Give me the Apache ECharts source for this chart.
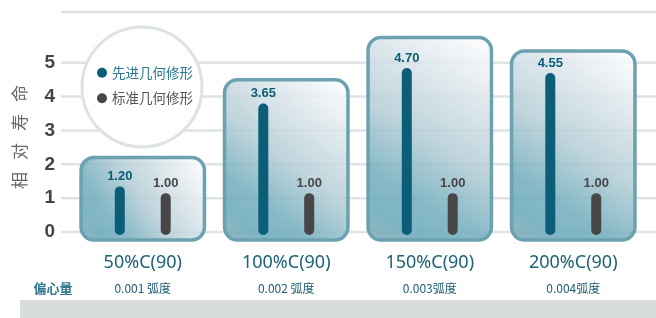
<!DOCTYPE html>
<html>
<head>
<meta charset="utf-8">
<script src="https://cdn.jsdelivr.net/npm/echarts@6/dist/echarts.min.js"></script>
<style>
  html, body { margin: 0; padding: 0; background: #fff; }
  #chart { width: 656px; height: 318px; }
</style>
</head>
<body>
<div id="chart"></div>
<script>
// data
const categories = ['50%C(90)', '100%C(90)', '150%C(90)', '200%C(90)']
const eccentricity = ['0.001 弧度', '0.002 弧度', '0.003弧度', '0.004弧度']
const advanced = [1.20, 3.65, 4.70, 4.55]
const standard = [1.00, 1.00, 1.00, 1.00]
const boxTop = [2.2, 4.5, 5.75, 5.35]
const gridLevels = [0, 1, 2, 3, 4, 5, 6.5]

const TEAL = '#0b5d78'
const GREY = '#474747'
const CJK = '"Noto Sans CJK SC", "Noto Sans", sans-serif'

const chart = echarts.init(document.getElementById('chart'), null, { renderer: 'canvas' })

const boxFill = new echarts.graphic.LinearGradient(1, 0, 0, 1, [
  { offset: 0, color: '#ffffff' },
  { offset: 0.2, color: '#e2eaee' },
  { offset: 0.5, color: '#b3ccd5' },
  { offset: 0.75, color: '#6eabbb' },
  { offset: 0.88, color: '#66a7b7' },
  { offset: 1, color: '#80a8b4' }
])

function renderGridLine (params, api) {
  const cs = params.coordSys
  const y = api.coord([0, api.value(0)])[1]
  return {
    type: 'line',
    shape: { x1: cs.x, y1: y, x2: cs.x + cs.width, y2: y },
    style: { stroke: '#dfe3e3', lineWidth: 2.5 }
  }
}

function renderBox (params, api) {
  const i = api.value(0)
  const top = api.coord([i, api.value(1)])
  const base = api.coord([i, 0])
  const w = api.size([1, 0])[0] * 0.86
  const shape = { x: top[0] - w / 2, y: top[1], width: w, height: base[1] + 8 - top[1], r: 13 }
  return {
    type: 'group',
    children: [
      { type: 'rect', shape: shape, style: { fill: boxFill, opacity: 0.84 } },
      { type: 'rect', shape: shape, style: { fill: 'none', stroke: '#6ca1b0', lineWidth: 3.5 } }
    ]
  }
}

function barRenderer (shift, color) {
  return function (params, api) {
    const i = api.value(0)
    const v = api.value(1)
    const base = api.coord([i, 0])
    const top = api.coord([i, v])
    const x = base[0] + shift * api.size([1, 0])[0]
    return {
      type: 'group',
      children: [
        {
          type: 'line',
          shape: { x1: x, y1: base[1] - 2, x2: x, y2: top[1] },
          style: { stroke: color, lineWidth: 10, lineCap: 'round' }
        },
        {
          type: 'text',
          x: x,
          y: top[1] - 15,
          style: {
            text: v.toFixed(2),
            fill: color,
            font: 'bold 13px "Liberation Sans", Arial, sans-serif',
            align: 'center',
            verticalAlign: 'middle'
          }
        }
      ]
    }
  }
}

chart.setOption({
  backgroundColor: '#fff',
  animation: false,
  grid: [
    { left: 61, right: 0, top: 12, bottom: 86 },
    { left: 71, right: 11, top: 12, bottom: 86 }
  ],
  xAxis: [
    { gridIndex: 0, type: 'value', min: 0, max: 1, show: false },
    {
      gridIndex: 1,
      type: 'category',
      data: categories,
      axisLine: { show: false },
      axisTick: { show: false },
      axisLabel: {
        margin: 19,
        formatter: (v, i) => '{a|' + v + '}\n{b|' + eccentricity[i] + '}',
        rich: {
          a: { fontSize: 18, color: '#1c6278', fontFamily: '"Noto Sans", sans-serif', lineHeight: 24 },
          b: { fontSize: 12, color: '#1d5d73', fontFamily: CJK, lineHeight: 26 }
        }
      }
    }
  ],
  yAxis: [
    {
      gridIndex: 0,
      type: 'value',
      min: 0,
      max: 6.5,
      interval: 1,
      axisLine: { show: false },
      axisTick: { show: false },
      splitLine: { show: false },
      axisLabel: {
        margin: 6,
        color: '#444',
        fontSize: 19,
        fontWeight: 'bold',
        fontFamily: '"Liberation Sans", Arial, sans-serif',
        padding: [0, 0, 8, 0],
        formatter: v => (v <= 5 ? String(v) : '')
      }
    },
    { gridIndex: 1, type: 'value', min: 0, max: 6.5, show: false }
  ],
  legend: {
    data: [
      { name: '先进几何修形', textStyle: { color: '#2a7a94' } },
      { name: '标准几何修形', textStyle: { color: '#555' } }
    ],
    orient: 'vertical',
    left: 92,
    top: 61,
    icon: 'circle',
    itemWidth: 10,
    itemHeight: 10,
    itemGap: 12,
    z: 5,
    textStyle: { fontSize: 13.5, fontFamily: CJK }
  },
  graphic: [
    {
      type: 'circle',
      z: 3,
      shape: { cx: 142, cy: 87, r: 60 },
      style: { fill: '#fff', stroke: '#dde2e3', lineWidth: 3 }
    },
    {
      type: 'text',
      x: 20,
      y: 137,
      rotation: Math.PI / 2,
      style: {
        text: '相{s|　}对{s|　}寿{s|　}命',
        fill: '#666',
        fontSize: 17,
        fontFamily: CJK,
        align: 'center',
        verticalAlign: 'middle',
        rich: { s: { fontSize: 12, fontFamily: CJK } }
      }
    },
    {
      type: 'text',
      x: 53,
      y: 288,
      style: {
        text: '偏心量',
        fill: '#2f7690',
        fontSize: 13,
        fontWeight: 'bold',
        fontFamily: CJK,
        align: 'center',
        verticalAlign: 'middle'
      }
    },
    {
      type: 'rect',
      shape: { x: 20, y: 300, width: 636, height: 18 },
      style: { fill: '#d9dcdd' }
    }
  ],
  series: [
    {
      type: 'custom',
      xAxisIndex: 0,
      yAxisIndex: 0,
      z: 1,
      silent: true,
      renderItem: renderGridLine,
      data: gridLevels.map(v => [v])
    },
    {
      type: 'custom',
      xAxisIndex: 1,
      yAxisIndex: 1,
      z: 2,
      clip: false,
      renderItem: renderBox,
      encode: { x: 0, y: 1 },
      data: boxTop.map((v, i) => [i, v])
    },
    {
      name: '先进几何修形',
      type: 'custom',
      xAxisIndex: 1,
      yAxisIndex: 1,
      z: 3,
      clip: false,
      itemStyle: { color: TEAL },
      renderItem: barRenderer(-0.16, TEAL),
      encode: { x: 0, y: 1 },
      data: advanced.map((v, i) => [i, v])
    },
    {
      name: '标准几何修形',
      type: 'custom',
      xAxisIndex: 1,
      yAxisIndex: 1,
      z: 3,
      clip: false,
      itemStyle: { color: GREY },
      renderItem: barRenderer(0.16, GREY),
      encode: { x: 0, y: 1 },
      data: standard.map((v, i) => [i, v])
    }
  ]
})
</script>
</body>
</html>
